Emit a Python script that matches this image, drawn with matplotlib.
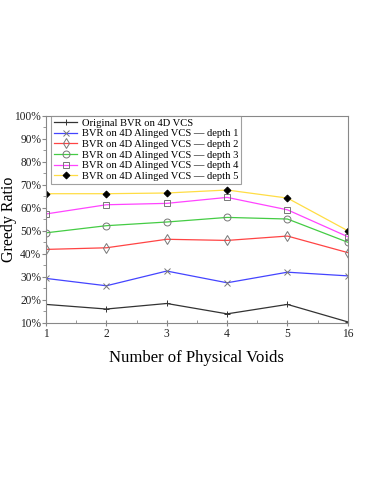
import matplotlib
matplotlib.use('Agg')
import matplotlib.pyplot as plt
import numpy as np
from matplotlib.ticker import FuncFormatter, MultipleLocator

plt.rcParams['font.family'] = ['Liberation Serif', 'DejaVu Serif']

voids = ['1', '2', '3', '4', '5', '16']
original = [18.0, 16.0, 18.4, 13.9, 18.0, 10.4]
depth1 = [29.3, 26.1, 32.5, 27.4, 32.0, 30.4]
depth2 = [41.9, 42.6, 46.3, 45.8, 47.7, 40.5]
depth3 = [49.1, 52.2, 53.8, 55.8, 55.1, 45.0]
depth4 = [57.3, 61.3, 61.9, 64.5, 59.1, 47.4]
depth5 = [66.1, 66.1, 66.4, 67.7, 64.2, 50.0]

x = np.arange(len(voids))

fig = plt.figure(figsize=(3.74, 4.84), dpi=100)
ax = fig.add_axes([0.123, 0.333, 0.807, 0.428])

edge = '#777777'
ax.plot(x, original, color='#333333', lw=0.9, marker='+', ms=5, mew=0.7,
        label='Original BVR on 4D VCS')
ax.plot(x, depth1, color='#4444ff', lw=0.9, marker='x', ms=5, mew=0.7,
        mec=edge, label='BVR on 4D Alinged VCS \u2014 depth 1')
ax.plot(x, depth2, color='#ff4444', lw=0.9, marker='d', ms=5, mew=0.7,
        mfc='none', mec=edge, label='BVR on 4D Alinged VCS \u2014 depth 2')
ax.plot(x, depth3, color='#44cc44', lw=0.9, marker='o', ms=5, mew=0.7,
        mfc='none', mec=edge, label='BVR on 4D Alinged VCS \u2014 depth 3')
ax.plot(x, depth4, color='#ff44ff', lw=0.9, marker='s', ms=5, mew=0.7,
        mfc='none', mec=edge, label='BVR on 4D Alinged VCS \u2014 depth 4')
ax.plot(x, depth5, color='#ffdd44', lw=0.9, marker='D', ms=3.5, mew=0.7,
        mfc='black', mec='black', label='BVR on 4D Alinged VCS \u2014 depth 5')

ax.set_xlim(0, len(voids) - 1)
ax.set_ylim(10, 100)
ax.set_xticks(x)
ax.set_xticklabels(voids)
ax.xaxis.set_minor_locator(MultipleLocator(0.5))
ax.yaxis.set_major_locator(MultipleLocator(10))
ax.yaxis.set_minor_locator(MultipleLocator(5))
ax.yaxis.set_major_formatter(FuncFormatter(lambda v, p: '%d%%' % v))

for s in ax.spines.values():
    s.set_color('#888888')
ax.tick_params(which='both', colors='#888888', labelcolor='#222222', labelsize=8.3)
ax.tick_params(axis='y', which='major', direction='out', length=3, pad=0.5)
ax.tick_params(axis='y', which='minor', direction='out', length=2)
ax.tick_params(axis='x', which='major', direction='inout', length=4, pad=2)
ax.tick_params(axis='x', which='minor', direction='in', length=2)

ax.set_xlabel('Number of Physical Voids', fontsize=12, labelpad=7)
ax.set_ylabel('Greedy Ratio', fontsize=11.5)
ax.yaxis.set_label_coords(-0.097, 0.5)

leg = ax.legend(loc='upper left', bbox_to_anchor=(0.018, 1.0), fontsize=7.6,
                frameon=True, fancybox=False, borderpad=0.25, labelspacing=0.12,
                handlelength=2.2, handletextpad=0.4, borderaxespad=0.0)
leg.get_frame().set_edgecolor('#888888')
leg.get_frame().set_linewidth(0.8)

fig.savefig('out.png', dpi=100)
